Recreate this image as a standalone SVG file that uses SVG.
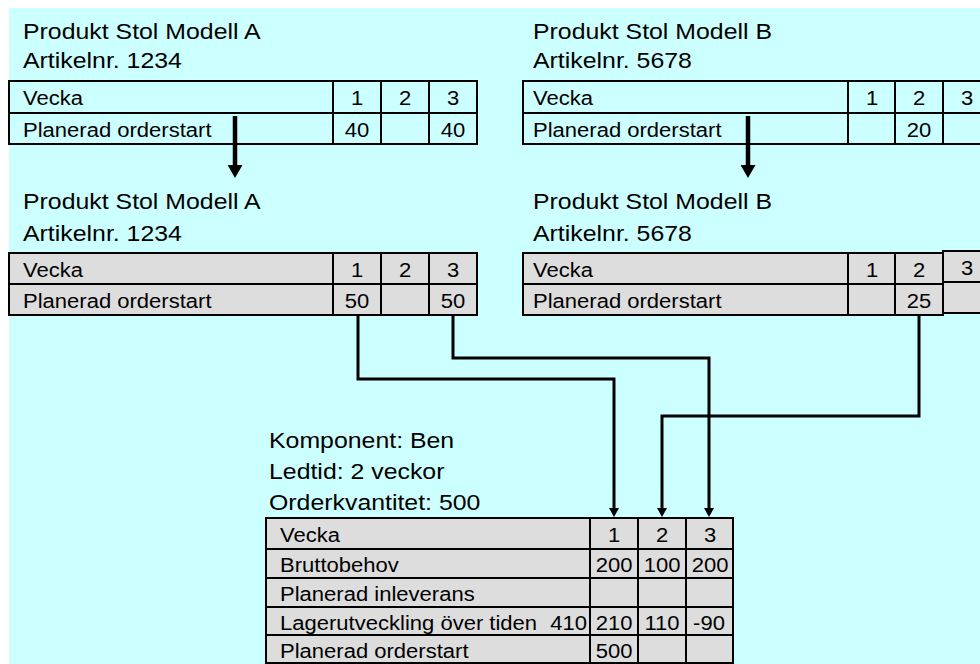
<svg xmlns="http://www.w3.org/2000/svg" width="980" height="664" viewBox="0 0 980 664">
<defs>
<style>
.bg{fill:#CCFFFF}
.cell{fill:none;stroke:#000;stroke-width:2}
.gcell{fill:#DDDDDD;stroke:#000;stroke-width:2}
.ln{stroke:#000;stroke-width:2;fill:none}
text{font-family:"Liberation Sans",Arial,Helvetica,sans-serif;fill:#000}
.t{font-size:19.5px}
.h{font-size:22px}
.c{text-anchor:middle}
.e{text-anchor:end}
.conn{stroke:#000;stroke-width:3;fill:none}
.big{stroke:#000;stroke-width:4.5;fill:none}
</style>
<marker id="ah" markerUnits="userSpaceOnUse" markerWidth="10" markerHeight="10" refX="0" refY="5" orient="auto">
<path d="M0,0 L9,5 L0,10 z" fill="#000"/>
</marker>
<marker id="bh" markerUnits="userSpaceOnUse" markerWidth="14" markerHeight="15" refX="0" refY="7.5" orient="auto">
<path d="M0,0 L13,7.5 L0,15 z" fill="#000"/>
</marker>
</defs>
<rect class="bg" x="9" y="8" width="971" height="656"/>

<g id="produktA1">
<text class="h" transform="translate(23,39) scale(1.13,1)">Produkt Stol Modell A</text>
<text class="h" transform="translate(23,68) scale(1.13,1)">Artikelnr. 1234</text>
<rect class="cell" x="9" y="81" width="468" height="63"/>
<path class="ln" d="M9,113 H477 M333,81 V144 M381,81 V144 M429,81 V144"/>
<text class="t" transform="translate(23,105) scale(1.13,1)">Vecka</text>
<text class="t c" transform="translate(357,105) scale(1.13,1)">1</text>
<text class="t c" transform="translate(405,105) scale(1.13,1)">2</text>
<text class="t c" transform="translate(453,105) scale(1.13,1)">3</text>
<text class="t" transform="translate(23,137) scale(1.13,1)">Planerad orderstart</text>
<text class="t c" transform="translate(357,137) scale(1.13,1)">40</text>
<text class="t c" transform="translate(453,137) scale(1.13,1)">40</text>
</g>

<g id="produktB1">
<text class="h" transform="translate(533,39) scale(1.13,1)">Produkt Stol Modell B</text>
<text class="h" transform="translate(533,68) scale(1.13,1)">Artikelnr. 5678</text>
<rect class="cell" x="523" y="81" width="468" height="63"/>
<path class="ln" d="M523,113 H991 M848,81 V144 M895,81 V144 M943,81 V144"/>
<text class="t" transform="translate(533,105) scale(1.13,1)">Vecka</text>
<text class="t c" transform="translate(872,105) scale(1.13,1)">1</text>
<text class="t c" transform="translate(919,105) scale(1.13,1)">2</text>
<text class="t c" transform="translate(967,105) scale(1.13,1)">3</text>
<text class="t" transform="translate(533,137) scale(1.13,1)">Planerad orderstart</text>
<text class="t c" transform="translate(919,137) scale(1.13,1)">20</text>
</g>

<g id="produktA2">
<text class="h" transform="translate(23,209) scale(1.13,1)">Produkt Stol Modell A</text>
<text class="h" transform="translate(23,241) scale(1.13,1)">Artikelnr. 1234</text>
<rect class="gcell" x="9" y="253" width="468" height="62"/>
<path class="ln" d="M9,284 H477 M333,253 V315 M381,253 V315 M429,253 V315"/>
<text class="t" transform="translate(23,277) scale(1.13,1)">Vecka</text>
<text class="t c" transform="translate(357,277) scale(1.13,1)">1</text>
<text class="t c" transform="translate(405,277) scale(1.13,1)">2</text>
<text class="t c" transform="translate(453,277) scale(1.13,1)">3</text>
<text class="t" transform="translate(23,308) scale(1.13,1)">Planerad orderstart</text>
<text class="t c" transform="translate(357,308) scale(1.13,1)">50</text>
<text class="t c" transform="translate(453,308) scale(1.13,1)">50</text>
</g>

<g id="produktB2">
<text class="h" transform="translate(533,209) scale(1.13,1)">Produkt Stol Modell B</text>
<text class="h" transform="translate(533,241) scale(1.13,1)">Artikelnr. 5678</text>
<rect class="gcell" x="523" y="253" width="420" height="62"/>
<path class="ln" d="M523,284 H943 M848,253 V315 M895,253 V315"/>
<rect class="gcell" x="943" y="251" width="48" height="62"/>
<path class="ln" d="M943,282 H991"/>
<text class="t" transform="translate(533,277) scale(1.13,1)">Vecka</text>
<text class="t c" transform="translate(872,277) scale(1.13,1)">1</text>
<text class="t c" transform="translate(919,277) scale(1.13,1)">2</text>
<text class="t c" transform="translate(967,275) scale(1.13,1)">3</text>
<text class="t" transform="translate(533,308) scale(1.13,1)">Planerad orderstart</text>
<text class="t c" transform="translate(919,308) scale(1.13,1)">25</text>
</g>

<g id="komponentBen">
<text class="h" transform="translate(269,448) scale(1.13,1)">Komponent: Ben</text>
<text class="h" transform="translate(269,479) scale(1.13,1)">Ledtid: 2 veckor</text>
<text class="h" transform="translate(269,510) scale(1.13,1)">Orderkvantitet: 500</text>
<rect class="gcell" x="266" y="518" width="467" height="145"/>
<path class="ln" d="M266,549 H733 M266,578 H733 M266,607 H733 M266,635 H733 M590,518 V663 M638,518 V663 M686,518 V663"/>
<text class="t" transform="translate(280,542) scale(1.13,1)">Vecka</text>
<text class="t c" transform="translate(614,542) scale(1.13,1)">1</text>
<text class="t c" transform="translate(662,542) scale(1.13,1)">2</text>
<text class="t c" transform="translate(710,542) scale(1.13,1)">3</text>
<text class="t" transform="translate(280,572) scale(1.13,1)">Bruttobehov</text>
<text class="t c" transform="translate(614,572) scale(1.13,1)">200</text>
<text class="t c" transform="translate(662,572) scale(1.13,1)">100</text>
<text class="t c" transform="translate(710,572) scale(1.13,1)">200</text>
<text class="t" transform="translate(280,601) scale(1.13,1)">Planerad inleverans</text>
<text class="t" transform="translate(280,630) scale(1.13,1)">Lagerutveckling över tiden</text>
<text class="t e" transform="translate(587,630) scale(1.13,1)">410</text>
<text class="t c" transform="translate(614,630) scale(1.13,1)">210</text>
<text class="t c" transform="translate(662,630) scale(1.13,1)">110</text>
<text class="t c" transform="translate(709,630) scale(1.13,1)">-90</text>
<text class="t" transform="translate(280,658) scale(1.13,1)">Planerad orderstart</text>
<text class="t c" transform="translate(614,658) scale(1.13,1)">500</text>
</g>

<g id="connectors">
<path class="big" d="M235,116 V165" marker-end="url(#bh)"/>
<path class="big" d="M748,116 V165" marker-end="url(#bh)"/>
<path class="conn" d="M358,316 V379 H614 V508" marker-end="url(#ah)"/>
<path class="conn" d="M453,316 V358 H709 V508" marker-end="url(#ah)"/>
<path class="conn" d="M919,315 V416 H662 V508" marker-end="url(#ah)"/>
</g>
</svg>
